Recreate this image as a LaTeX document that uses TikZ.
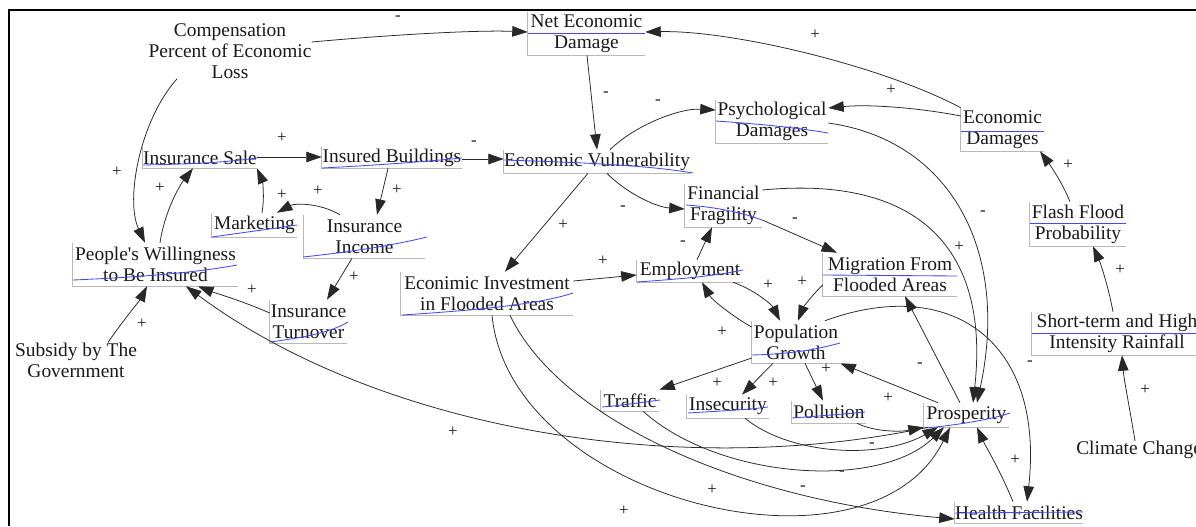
\documentclass[tikz,border=0pt]{standalone}
\usepackage{fontspec}
\setmainfont{Liberation Serif}
\usetikzlibrary{arrows.meta}
\newcommand{\varfont}{\fontsize{13.8}{15}\selectfont}
\newcommand{\polfont}{\fontsize{12}{13}\selectfont}
\newcommand{\pxu}{0.025cm}
\definecolor{inkc}{RGB}{25,25,25}
\definecolor{linec}{RGB}{40,40,40}
\definecolor{boxc}{RGB}{185,185,185}
\definecolor{spellc}{RGB}{70,70,245}
\begin{document}
\begin{tikzpicture}[x=0.025cm,y=-0.025cm,
  var/.style={inner sep=0pt, align=center, font=\varfont, text=inkc},
  plain/.style={inner sep=0pt, align=center, font=\varfont, text=inkc},
  sz/.style 2 args={minimum width=#1*\pxu, minimum height=#2*\pxu},
  pol/.style={inner sep=0pt, font=\polfont, text=inkc},
  link/.style={draw=linec, line width=0.55pt, -{Triangle[length=11pt,width=7.5pt]}},
  boxl/.style={draw=boxc, line width=0.8pt},
  spell/.style={draw=spellc, line width=0.6pt},
  frame/.style={draw=black, line width=1.1pt}]
\useasboundingbox (0,0) rectangle (1196,526);
\draw[frame] (9,526) -- (9,10) -- (1196,10);

% variables with boxes
\node[var, sz={117}{43}] (net) at (586.5,33.5) {Net Economic\\Damage};
\node[var, sz={112}{43}] (psy) at (772,121.5) {Psychological\\Damages};
\node[var, sz={83}{43}] (ecd) at (1002.5,129.5) {Economic\\Damages};
\node[var, sz={114}{21}] (sale) at (200,157.5) {Insurance Sale};
\node[var, sz={140}{21}] (bldg) at (392,157.5) {Insured Buildings};
\node[var, sz={186}{23}] (vul) at (597,161.5) {Economic Vulnerability};
\node[var, sz={77}{43}] (fin) at (723.5,205.5) {Financial\\Fragility};
\node[var, sz={85}{24}] (mkt) at (254.5,225) {Marketing};
\node[var, sz={121}{43}] (inc) at (364.5,236.5) {Insurance\\Income};
\node[var, sz={165}{43}] (will) at (155.5,264.5) {People\textquotesingle s Willingness\\to Be Insured};
\node[var, sz={77}{43}] (turn) at (308.5,321.5) {Insurance\\Turnover};
\node[var, sz={172}{43}] (inv) at (487,293.5) {Econimic Investment\\in Flooded Areas};
\node[var, sz={106}{22}] (emp) at (690,271) {Employment};
\node[var, sz={134}{43}] (mig) at (890,274.5) {Migration From\\Flooded Areas};
\node[var, sz={96}{44}] (flash) at (1078,224) {Flash Flood\\Probability};
\node[var, sz={88}{42}] (pop) at (796,342) {Population\\Growth};
\node[var, sz={170}{43}] (rain) at (1117,333.5) {Short-term and High\\Intensity Rainfall};
\node[var, sz={58}{21}] (traf) at (630,400.5) {Traffic};
\node[var, sz={82}{23}] (insec) at (728,406.5) {Insecurity};
\node[var, sz={74}{22}] (poll) at (829,412) {Pollution};
\node[var, sz={85}{24}] (pros) at (966.5,415) {Prosperity};
\node[var, sz={128}{21}] (hf) at (1019,512.5) {Health Facilities};

% variables without boxes
\node[plain] (comp) at (230,51) {Compensation\\Percent of Economic\\Loss};
\node[plain] (sub) at (76,360) {Subsidy by The\\Government};
\node[plain, anchor=west] (cc) at (1076,450) {Climate Change};

% gray box corners
\foreach \n in {net,psy,ecd,sale,bldg,vul,fin,mkt,inc,will,turn,inv,emp,mig,flash,pop,rain,traf,insec,poll,pros,hf}
  \draw[boxl] (\n.north west) |- (\n.south east);

% blue marks
\draw[spell] (528,33) -- (645,33);
\draw[spell] (716,121) .. controls (760,124) and (800,128) .. (828,133);
\draw[spell] (961,131) -- (1044,131);
\draw[spell] (143,165) .. controls (190,164) and (220,163) .. (257,158);
\draw[spell] (322,168) .. controls (380,165) and (420,162) .. (462,158);
\draw[spell] (504,160) .. controls (560,162) and (640,164) .. (693,173);
\draw[spell] (686,205) .. controls (715,207) and (740,212) .. (762,220);
\draw[spell] (212,237) .. controls (240,233) and (270,229) .. (297,225);
\draw[spell] (303,257) .. controls (350,252) and (390,246) .. (427,237);
\draw[spell] (73,280) .. controls (120,278) and (190,274) .. (237,265);
\draw[spell] (270,342) .. controls (300,338) and (330,333) .. (348,322);
\draw[spell] (402,315) .. controls (480,310) and (540,304) .. (573,293);
\draw[spell] (637,282) .. controls (680,279) and (715,276) .. (743,270);
\draw[spell] (823,275) -- (957,276);
\draw[spell] (1030,223) -- (1126,223);
\draw[spell] (752,355) .. controls (790,354) and (815,350) .. (840,343);
\draw[spell] (1032,333) -- (1196,333);
\draw[spell] (602,407) .. controls (625,405) and (645,402) .. (660,400);
\draw[spell] (688,413) .. controls (720,411) and (745,410) .. (768,407);
\draw[spell] (792,418) .. controls (820,416) and (845,414) .. (865,412);
\draw[spell] (925,428) .. controls (950,426) and (990,420) .. (1010,413);
\draw[spell] (955,513) -- (1083,512);

% connectors
\draw[link] (comp.east |- 0,42) .. controls (400,34) and (480,30) .. (net.west |- 0,32);
\draw[link] (comp.south -| 177,0) .. controls (140,120) and (125,200) .. (will.north -| 145,0);
\draw[link] (will.north -| 160,0) .. controls (165,210) and (180,185) .. (sale.south -| 193,0);
\draw[link] (sale.east |- 0,157) -- (bldg.west |- 0,157);
\draw[link] (bldg.east |- 0,159) -- (vul.west |- 0,159);
\draw[link] (net.south -| 587,0) -- (vul.north -| 597,0);
\draw[link] (vul.north -| 610,0) .. controls (635,125) and (680,108) .. (psy.west |- 0,110);
\draw[link] (ecd.west |- 0,116) .. controls (920,108) and (870,104) .. (psy.east |- 0,108);
\draw[link] (ecd.north west) .. controls (880,65) and (730,30) .. (net.east |- 0,32);
\draw[link] (flash.north -| 1070,0) .. controls (1062,182) and (1050,165) .. (ecd.south -| 1040,0);
\draw[link] (rain.north -| 1113,0) .. controls (1108,285) and (1100,262) .. (flash.south -| 1093,0);
\draw[link] (cc.north -| 1135,0) .. controls (1130,410) and (1124,380) .. (rain.south -| 1122,0);
\draw[link] (bldg.south -| 388,0) -- (inc.north -| 377,0);
\draw[link] (inc.north -| 340,0) .. controls (320,203) and (295,203) .. (mkt.north -| 277,0);
\draw[link] (mkt.north -| 262,0) .. controls (265,195) and (262,180) .. (sale.south -| 257,0);
\draw[link] (inc.south -| 352,0) -- (turn.north -| 327,0);
\draw[link] (turn.west |- 0,313) .. controls (240,300) and (215,293) .. (will.south -| 198,0);
\draw[link] (sub.north -| 108,0) .. controls (125,318) and (140,300) .. (will.south -| 147,0);
\draw[link] (pros.south -| 928,0) .. controls (680,480) and (380,430) .. (will.south -| 186,0);
\draw[link] (vul.south -| 588,0) -- (inv.north -| 505,0);
\draw[link] (vul.south -| 607,0) .. controls (625,192) and (655,207) .. (fin.west |- 0,209);
\draw[link] (inv.east |- 0,281) -- (emp.west |- 0,275);
\draw[link] (emp.north -| 697,0) -- (fin.south -| 712,0);
\draw[link] (pop.west |- 0,327) .. controls (735,318) and (712,300) .. (emp.south -| 702,0);
\draw[link] (emp.south -| 733,0) .. controls (755,290) and (772,305) .. (pop.north -| 780,0);
\draw[link] (mig.west |- 0,285) .. controls (812,295) and (803,308) .. (pop.north -| 798,0);
\draw[link] (fin.east |- 0,220) -- (mig.north -| 837,0);
\draw[link] (fin.east |- 0,190) .. controls (920,175) and (990,250) .. (pros.north -| 973,0);
\draw[link] (psy.east |- 0,123) .. controls (950,140) and (1010,250) .. (pros.north -| 977,0);
\draw[link] (pros.north -| 960,0) -- (mig.south -| 905,0);
\draw[link] (pros.north -| 938,0) -- (pop.south east);
\draw[link] (pop.west |- 0,358) -- (traf.north east);
\draw[link] (pop.south -| 773,0) -- (insec.north -| 742,0);
\draw[link] (pop.south -| 805,0) -- (poll.north -| 823,0);
\draw[link] (poll.south -| 857,0) .. controls (875,432) and (900,432) .. (pros.south west);
\draw[link] (insec.south -| 745,0) .. controls (790,455) and (880,460) .. (pros.south -| 938,0);
\draw[link] (traf.south -| 643,0) .. controls (720,480) and (880,490) .. (pros.south -| 944,0);
\draw[link] (inv.south -| 492,0) .. controls (510,500) and (870,590) .. (pros.south -| 950,0);
\draw[link] (inv.south -| 510,0) .. controls (560,420) and (740,500) .. (hf.west |- 0,519);
\draw[link] (pop.north -| 825,0) .. controls (950,275) and (1045,340) .. (hf.north -| 1027,0);
\draw[link] (hf.north -| 1013,0) .. controls (1000,470) and (985,445) .. (pros.south -| 977,0);

% polarity labels
\node[pol] (l1) at (398,18) {-};
\node[pol] (l2) at (117,172) {+};
\node[pol] (l3) at (160,188) {+};
\node[pol] (l4) at (282,138) {+};
\node[pol] (l5) at (474,143) {-};
\node[pol] (l6) at (606,94) {-};
\node[pol] (l7) at (658,102) {-};
\node[pol] (l8) at (891,90) {+};
\node[pol] (l9) at (815,35) {+};
\node[pol] (l10) at (1068,165) {+};
\node[pol] (l11) at (1120,270) {+};
\node[pol] (l12) at (1145,390) {+};
\node[pol] (l13) at (397,190) {+};
\node[pol] (l14) at (318,191) {+};
\node[pol] (l15) at (282,195) {+};
\node[pol] (l16) at (354,277) {+};
\node[pol] (l17) at (252,290) {+};
\node[pol] (l18) at (142,324) {+};
\node[pol] (l19) at (453,432) {+};
\node[pol] (l20) at (563,225) {+};
\node[pol] (l21) at (623,208) {-};
\node[pol] (l22) at (603,261) {+};
\node[pol] (l23) at (683,243) {-};
\node[pol] (l24) at (722,332) {+};
\node[pol] (l25) at (768,285) {+};
\node[pol] (l26) at (802,282) {+};
\node[pol] (l27) at (795,220) {-};
\node[pol] (l28) at (959,247) {+};
\node[pol] (l29) at (983,213) {-};
\node[pol] (l30) at (920,365) {-};
\node[pol] (l31) at (888,398) {+};
\node[pol] (l32) at (717,383) {+};
\node[pol] (l33) at (773,383) {+};
\node[pol] (l34) at (826,369) {+};
\node[pol] (l35) at (872,445) {-};
\node[pol] (l36) at (842,473) {-};
\node[pol] (l37) at (803,488) {-};
\node[pol] (l38) at (624,511) {+};
\node[pol] (l39) at (712,490) {+};
\node[pol] (l40) at (1030,363) {-};
\node[pol] (l41) at (1015,460) {+};
\end{tikzpicture}
\end{document}
